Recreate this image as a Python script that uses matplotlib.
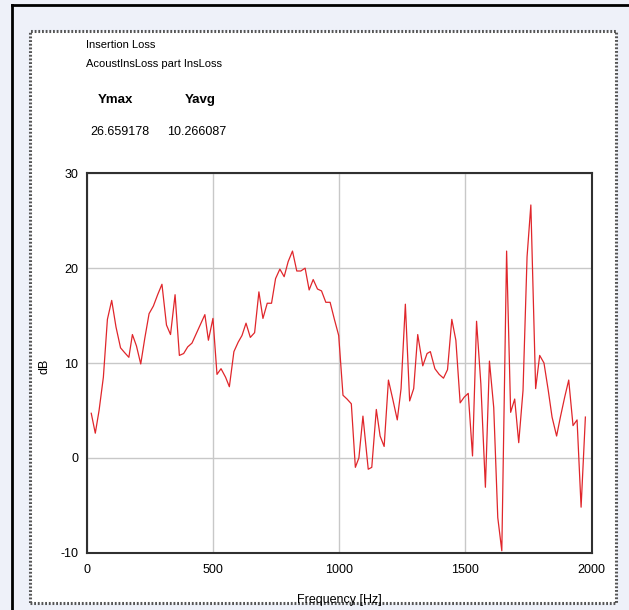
import matplotlib
matplotlib.use("Agg")
import matplotlib.pyplot as plt
from matplotlib.patches import Rectangle
from matplotlib.lines import Line2D
from matplotlib import font_manager

# ---------------- data ----------------
freq = [18, 34, 49, 66, 82, 99, 116, 134, 150, 167, 181, 197, 214, 230, 247,
        264, 281, 298, 316, 332, 350, 367, 384, 400, 417, 434, 451, 468, 482,
        500, 516, 532, 550, 565, 583, 600, 615, 631, 648, 665, 682, 698, 715,
        732, 748, 765, 782, 798, 815, 832, 848, 865, 881, 897, 914, 930, 947,
        964, 981, 998, 1015, 1031, 1048, 1064, 1078, 1094, 1115, 1129, 1147,
        1162, 1178, 1195, 1212, 1230, 1245, 1262, 1279, 1295, 1311, 1331, 1348,
        1361, 1379, 1396, 1413, 1429, 1446, 1462, 1479, 1495, 1511, 1528, 1544,
        1561, 1579, 1595, 1612, 1628, 1644, 1663, 1679, 1695, 1711, 1728, 1744,
        1759, 1778, 1794, 1811, 1828, 1843, 1861, 1876, 1893, 1909, 1926, 1942,
        1958, 1975]
insloss = [4.7, 2.6, 5.0, 8.5, 14.6, 16.6, 13.8, 11.6, 11.1, 10.6, 13.0, 11.8,
           9.9, 12.6, 15.2, 16.0, 17.2, 18.3, 14.0, 13.0, 17.2, 10.8, 11.0,
           11.7, 12.1, 13.1, 14.1, 15.1, 12.4, 14.7, 8.8, 9.4, 8.5, 7.5, 11.2,
           12.2, 12.9, 14.2, 12.7, 13.2, 17.5, 14.7, 16.3, 16.3, 18.9, 19.9,
           19.1, 20.7, 21.8, 19.7, 19.7, 20.0, 17.7, 18.8, 17.8, 17.6, 16.4,
           16.4, 14.6, 12.9, 6.6, 6.2, 5.7, -1.0, 0.0, 4.4, -1.2, -1.0, 5.1,
           2.3, 1.2, 8.2, 6.2, 4.0, 7.3, 16.2, 6.0, 7.3, 13.0, 9.7, 11.0, 11.2,
           9.4, 8.8, 8.4, 9.3, 14.6, 12.4, 5.8, 6.4, 6.8, 0.2, 14.4, 7.8, -3.1,
           10.2, 5.3, -6.3, -9.8, 21.8, 4.8, 6.2, 1.6, 7.1, 21.2, 26.66, 7.3,
           10.8, 10.0, 7.1, 4.3, 2.3, 4.3, 6.4, 8.2, 3.4, 4.0, -5.2, 4.3]

title_lines = ["Insertion Loss", "AcoustInsLoss part InsLoss"]
stat_names = ["Ymax", "Yavg"]
stat_values = ["26.659178", "10.266087"]
xticks = [0, 500, 1000, 1500, 2000]
yticks = [-10, 0, 10, 20, 30]

# ---------------- fonts ----------------
names = {f.name for f in font_manager.fontManager.ttflist}
fam = ["Liberation Sans Narrow", "Liberation Sans", "DejaVu Sans"]
fam = [f for f in fam if f in names] + ["DejaVu Sans"]
plt.rcParams["font.family"] = fam
plt.rcParams["axes.unicode_minus"] = False

W, H = 629, 610
fig = plt.figure(figsize=(W / 100, H / 100), dpi=100, facecolor="#eef1f9")

def fx(px):
    return px / W

def fy(py):
    return 1 - py / H

# white panel with dotted border
fig.patches.append(Rectangle((fx(30), fy(603)), fx(616) - fx(30), fy(31) - fy(603),
                             transform=fig.transFigure, facecolor="white",
                             edgecolor="#555555", linewidth=2.2,
                             linestyle=(0, (0.6, 0.6)), zorder=-5))
# black outer border lines (top, left)
fig.lines.append(Line2D([fx(12), fx(629)], [fy(5), fy(5)], transform=fig.transFigure,
                        color="black", linewidth=2.0, zorder=-4))
fig.lines.append(Line2D([fx(12), fx(12)], [fy(5), fy(610)], transform=fig.transFigure,
                        color="black", linewidth=2.0, zorder=-4))

# header texts
fig.text(fx(86), fy(45), title_lines[0], fontsize=8, va="center", ha="left")
fig.text(fx(86), fy(64), title_lines[1], fontsize=8, va="center", ha="left")
fig.text(fx(115), fy(100), stat_names[0], fontsize=9.5, fontweight="bold", va="center", ha="center")
fig.text(fx(200), fy(100), stat_names[1], fontsize=9.5, fontweight="bold", va="center", ha="center")
fig.text(fx(120), fy(132), stat_values[0], fontsize=9, va="center", ha="center")
fig.text(fx(197), fy(132), stat_values[1], fontsize=9, va="center", ha="center")

# axes
ax = fig.add_axes([fx(86.7), fy(552.7), fx(591.7) - fx(86.7), fy(173.3) - fy(552.7)])
ax.set_zorder(1)
ax.set_facecolor("white")
ax.plot(freq, insloss, color="#e0262b", linewidth=0.9)
ax.set_xlim(0, 2000)
ax.set_ylim(-10, 30)
ax.set_xticks(xticks)
ax.set_yticks(yticks)
ax.grid(True, color="#c8c8c8", linewidth=1.0)
ax.set_axisbelow(True)
for s in ax.spines.values():
    s.set_color("#303030")
    s.set_linewidth(1.5)
ax.tick_params(length=0, labelsize=9)
ax.tick_params(axis="x", pad=8)
ax.tick_params(axis="y", pad=6)
ax.set_xlabel("Frequency [Hz]", fontsize=9, labelpad=13)
ax.set_ylabel("dB", fontsize=9, va="center")
ax.yaxis.set_label_coords((45 - 86.7) / 505, 0.49)

fig.savefig("out.png", dpi=100, facecolor=fig.get_facecolor())
